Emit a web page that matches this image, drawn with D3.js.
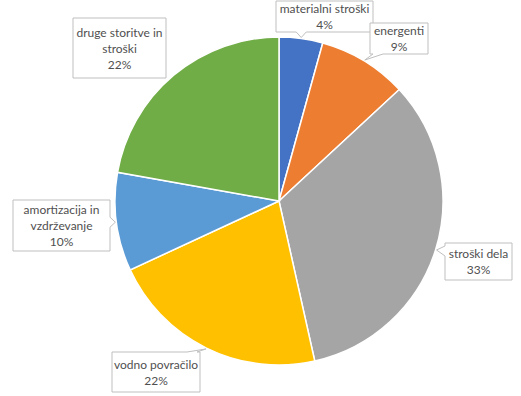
<!DOCTYPE html>
<html>
<head>
<meta charset="utf-8">
<script src="https://cdn.jsdelivr.net/npm/d3@7"></script>
<style>
  body { margin: 0; background: #fff; }
  text { font-family: Lato, "Liberation Sans", sans-serif; font-size: 12px; fill: #505050; }
</style>
</head>
<body>
<div id="chart"></div>
<script>
// data (shares in %, labels show rounded values)
var categories = ["materialni stroški", "energenti", "stroški dela", "vodno povračilo", "amortizacija in vzdrževanje", "druge storitve in stroški"]
var values = [4.3, 8.8, 33.4, 21.6, 9.7, 22.2]
var labelLines = [["materialni stroški"], ["energenti"], ["stroški dela"], ["vodno povračilo"], ["amortizacija in", "vzdrževanje"], ["druge storitve in", "stroški"]]
var colors = ["#4472C4", "#ED7D31", "#A5A5A5", "#FFC000", "#5B9BD5", "#70AD47"]

// callout box layout (x, y, w, h) and whether it has a pointer
var boxes = [
  [276, 1, 97, 31],
  [370, 23, 58, 31],
  [445, 243, 67, 37],
  [112, 352, 88, 40],
  [13, 200, 97, 51],
  [73, 18, 93, 60]
]
var pointers = [true, true, true, true, true, false]

var W = 521, H = 396
var cx = 279, cy = 201, r = 164

var svg = d3.select("#chart").append("svg")
  .attr("width", W)
  .attr("height", H)

var pie = d3.pie().sort(null).value(function(d) { return d })
var arcs = pie(values)
var arc = d3.arc().innerRadius(0).outerRadius(r)

var g = svg.append("g").attr("transform", "translate(" + cx + "," + cy + ")")
g.selectAll("path")
  .data(arcs)
  .enter()
  .append("path")
  .attr("d", arc)
  .attr("fill", function(d, i) { return colors[i] })
  .attr("stroke", "#fff")
  .attr("stroke-width", 1.5)

// callout shape: rectangle with a small wedge pointing to the slice
function calloutPath(b, tip) {
  var x0 = b[0], y0 = b[1], x1 = b[0] + b[2], y1 = b[1] + b[3]
  var hw = 5
  var clamp = function(v, a, c) { return Math.max(a, Math.min(c, v)) }
  var pts = [[x0, y0]]
  var side = null
  if (tip) {
    if (tip[1] > y1) side = "bottom"
    else if (tip[1] < y0) side = "top"
    else if (tip[0] > x1) side = "right"
    else if (tip[0] < x0) side = "left"
  }
  if (side == "top") { var m = clamp(tip[0], x0 + 8, x1 - 8); pts.push([m - hw, y0], tip, [m + hw, y0]) }
  pts.push([x1, y0])
  if (side == "right") { var m2 = clamp(tip[1], y0 + 8, y1 - 8); pts.push([x1, m2 - hw], tip, [x1, m2 + hw]) }
  pts.push([x1, y1])
  if (side == "bottom") { var m3 = clamp(tip[0], x0 + 8, x1 - 8); pts.push([m3 + hw, y1], tip, [m3 - hw, y1]) }
  pts.push([x0, y1])
  if (side == "left") { var m4 = clamp(tip[1], y0 + 8, y1 - 8); pts.push([x0, m4 + hw], tip, [x0, m4 - hw]) }
  return "M" + pts.map(function(p) { return p[0] + "," + p[1] }).join("L") + "Z"
}

var labels = svg.append("g")
arcs.forEach(function(d, i) {
  var a = (d.startAngle + d.endAngle) / 2
  var tip = pointers[i] ? [cx + (r + 1) * Math.sin(a), cy - (r + 1) * Math.cos(a)] : null
  var b = boxes[i]
  labels.append("path")
    .attr("d", calloutPath(b, tip))
    .attr("fill", "#fff")
    .attr("stroke", "#bfbfbf")
    .attr("stroke-width", 1)
  var lines = labelLines[i].concat([Math.round(values[i]) + "%"])
  var lh = 16
  var top = b[1] + b[3] / 2 - (lines.length - 1) * lh / 2
  lines.forEach(function(t, j) {
    labels.append("text")
      .attr("x", b[0] + b[2] / 2)
      .attr("y", top + j * lh)
      .attr("text-anchor", "middle")
      .attr("dominant-baseline", "central")
      .text(t)
  })
})
</script>
</body>
</html>
